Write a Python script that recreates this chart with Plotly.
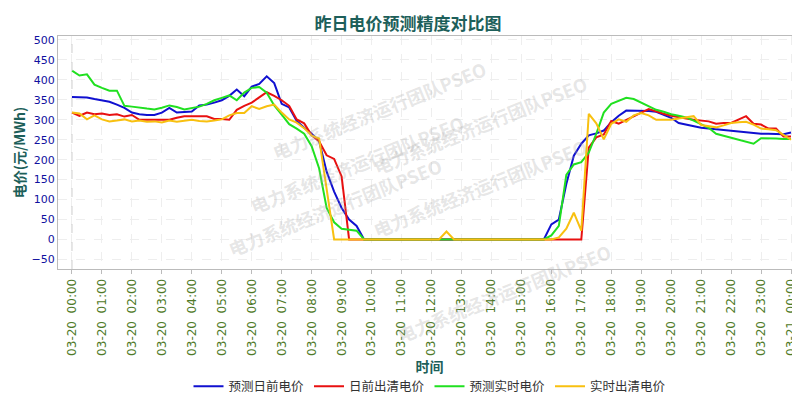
import pandas as pd
import plotly.graph_objs as go

# 15-min points for 03-20, 00:00 .. 03-21 00:00
times = pd.date_range("2024-03-20 00:00", "2024-03-21 00:00", freq="15min")

zeros_mid = [0] * 24

pred_da = ([357, 357, 356, 352, 348, 345, 338, 330, 318, 314, 312, 312, 318, 330, 318, 319,
            321, 336, 338, 343, 349, 360, 376, 359, 383, 390, 409, 392, 340, 331, 297, 280,
            265, 246, 170, 120, 79, 50, 34, 0]
           + zeros_mid
           + [38, 50, 139, 210, 240, 261, 266, 273, 294, 310, 323, 323, 323, 322, 320, 312,
              305, 292, 288, 284, 280, 278, 276, 274, 273, 271, 269, 267, 265, 265, 264, 264, 268])

da_clear = ([318, 310, 318, 314, 316, 312, 314, 308, 312, 300, 300, 300, 300, 300, 305, 309,
             309, 309, 309, 302, 302, 300, 325, 335, 343, 356, 369, 360, 349, 335, 301, 291,
             261, 246, 211, 202, 158, 0, 0, 0]
            + zeros_mid
            + [0, 0, 0, 0, 0, 230, 256, 263, 297, 290, 300, 309, 318, 327, 320, 315,
               310, 306, 303, 300, 298, 296, 290, 292, 292, 300, 309, 290, 288, 278, 278, 258, 258])

pred_rt = ([423, 411, 414, 388, 380, 373, 373, 335, 333, 330, 328, 326, 330, 336, 332, 326,
            330, 333, 340, 349, 355, 361, 349, 368, 380, 382, 368, 336, 313, 289, 278, 265,
            234, 178, 79, 43, 27, 25, 22, 0]
           + zeros_mid
           + [10, 34, 162, 188, 194, 218, 265, 318, 340, 347, 355, 352, 343, 333, 325, 320,
              314, 310, 306, 298, 290, 280, 265, 260, 255, 250, 246, 240, 254, 254, 253, 252, 252])

rt_clear = ([318, 316, 301, 311, 301, 296, 298, 301, 296, 298, 295, 296, 293, 298, 295, 298,
             300, 297, 296, 298, 301, 311, 317, 317, 334, 327, 334, 338, 318, 301, 293, 279,
             260, 253, 130, 0, 0, 0, 0, 0]
            + [0] * 10 + [20] + [0] * 13
            + [0, 5, 27, 67, 22, 315, 291, 251, 290, 301, 295, 311, 317, 311, 300, 300,
               300, 303, 306, 309, 287, 284, 281, 286, 292, 294, 295, 288, 278, 276, 274, 262, 250])

series = [("预测日前电价", pred_da, "#1010d0"),
          ("日前出清电价", da_clear, "#e81010"),
          ("预测实时电价", pred_rt, "#20e020"),
          ("实时出清电价", rt_clear, "#f8c010")]

fig = go.Figure()
for name, vals, color in series:
    fig.add_trace(go.Scatter(x=times, y=vals, name=name, mode="lines",
                             line=dict(color=color, width=2)))

fig.update_layout(
    width=800, height=400,
    title=dict(text="<b>昨日电价预测精度对比图</b>", x=0.5, y=0.975,
               font=dict(size=17, color="#1d5f5a", family="Noto Sans CJK SC")),
    font=dict(family="Noto Sans CJK SC"),
    plot_bgcolor="white", paper_bgcolor="white",
    margin=dict(l=50, r=7, t=28, b=128),
    legend=dict(orientation="h", x=0.5, xanchor="center", y=-0.44, yanchor="top",
                font=dict(size=12.5, color="#333333"), itemwidth=30, tracegroupgap=0),
    showlegend=True,
)

fig.update_xaxes(
    range=[pd.Timestamp("2024-03-19 23:32"), pd.Timestamp("2024-03-21 00:20")],
    dtick=3600000, tickformat="%m-%d  %H:%M", tickangle=-90, automargin=False,
    tickfont=dict(size=12, color="#4f7a28", family="DejaVu Sans"),
    showgrid=True, gridcolor="#eeeeee", griddash="dash",
    showline=True, linecolor="#bbbbbb", mirror=True, ticks="outside", ticklen=4,
    tickcolor="#bbbbbb",
    title=dict(text="<b>时间</b>", font=dict(size=14, color="#1d5f5a"), standoff=2),
)
fig.update_yaxes(
    range=[-74, 510], dtick=50, tick0=0, automargin=False,
    tickfont=dict(size=11, color="#1010a0", family="DejaVu Sans"),
    showgrid=True, gridcolor="#eeeeee", griddash="dash", zeroline=False,
    showline=True, linecolor="#bbbbbb", mirror=True,
    title=dict(text="<b>电价(元/MWh)</b>", font=dict(size=14, color="#1d5f5a"), standoff=2),
)

fig.add_vline(x=times[0], line=dict(color="#cccccc", width=1, dash="dash"))

# watermark
for wx, wy in [(0.28, 0.93), (0.72, 0.62), (0.25, 0.45), (0.72, 0.1), (0.22, 0.02), (0.6, -0.35)]:
    fig.add_annotation(text="<b>电力系统经济运行团队PSEO</b>", xref="paper", yref="paper",
                       x=wx, y=wy, showarrow=False, textangle=-22,
                       font=dict(size=18, color="rgba(170,170,170,0.3)"))

fig.write_html("out.html")
